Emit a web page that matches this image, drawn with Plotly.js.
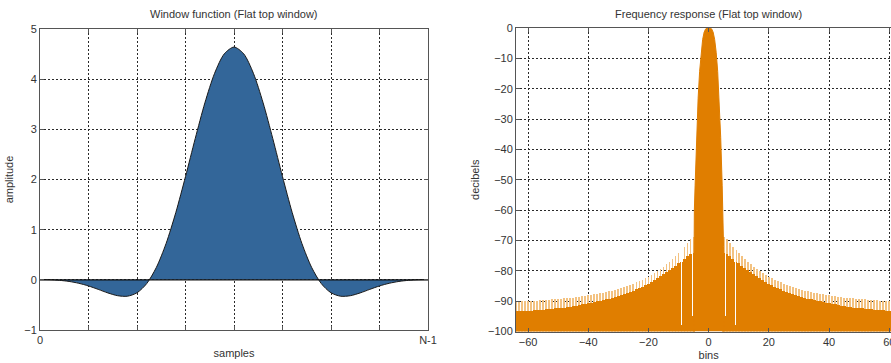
<!DOCTYPE html>
<html>
<head>
<meta charset="utf-8">
<script src="https://cdn.plot.ly/plotly-3.0.1.min.js"></script>
<style>
  html, body { margin: 0; padding: 0; background: #ffffff; overflow: hidden; }
  #chart { width: 905px; height: 363px; }
</style>
</head>
<body>
<div id="chart"></div>
<script>
// ---------- Window function (left panel) ----------
const sampleIdx = [0,1,2,3,4,5,6,7,8,9,10,11,12,13,14,15,16,17,18,19,20,
                   21,22,23,24,25,26,27,28,29,30,31,32,33,34,35,36,37,38,39,40];
const windowAmp = [0.004,0.001,-0.010,-0.032,-0.069,-0.122,-0.190,-0.261,-0.316,-0.327,-0.258,
                   -0.075,0.249,0.725,1.341,2.058,2.814,3.529,4.117,4.505,4.640,
                   4.505,4.117,3.529,2.814,2.058,1.341,0.725,0.249,-0.075,-0.258,
                   -0.327,-0.316,-0.261,-0.190,-0.122,-0.069,-0.032,-0.010,0.001,0.004];
const sampleTickVals = [0,5,10,15,20,25,30,35,40];
const sampleTickText = ['0','','','','','','','','N-1'];
const ampTickVals = [-1,0,1,2,3,4,5];

// ---------- Frequency response (right panel) ----------
const lobeBins = [-5,-4.95,-4.75,-4.5,-4,-3.5,-3,-2.5,-2,-1.5,-1,-0.5,0,
                  0.5,1,1.5,2,2.5,3,3.5,4,4.5,4.75,4.95,5];
const lobeDb   = [-100,-72,-60,-52,-36,-23.2,-14.3,-8.0,-3.8,-1.4,-0.3,-0.01,0,
                  -0.01,-0.3,-1.4,-3.8,-8.0,-14.3,-23.2,-36,-52,-60,-72,-100];

const binsNeg = [-64,-63,-62,-61,-60,-59,-58,-57,-56,-55,-54,-53,-52,-51,-50,-49,-48,-47,-46,-45,
                 -44,-43,-42,-41,-40,-39,-38,-37,-36,-35,-34,-33,-32,-31,-30,-29,-28,-27,-26,-25,
                 -24,-23,-22,-21,-20,-19,-18,-17,-16,-15,-14,-13,-12,-11,-10,-9,-8,-7,-6,-5];
const envNeg   = [-90.1,-90.0,-90.0,-90.0,-89.9,-89.9,-89.8,-89.8,-89.7,-89.6,-89.6,-89.5,-89.4,-89.4,-89.3,-89.2,-89.1,-89.0,-88.9,-88.8,
                  -88.7,-88.5,-88.4,-88.3,-88.1,-88.0,-87.8,-87.6,-87.4,-87.2,-87.0,-86.7,-86.5,-86.2,-85.9,-85.6,-85.3,-85.0,-84.6,-84.2,
                  -83.8,-83.4,-82.9,-82.4,-81.9,-81.3,-80.7,-80.0,-79.3,-78.6,-77.8,-77.0,-76.0,-75.0,-74.0,-73.0,-72.0,-70.8,-69.5,-69.0];
const solidNeg = [-93.3,-93.3,-93.2,-93.2,-93.1,-93.1,-93.0,-93.0,-92.9,-92.8,-92.7,-92.6,-92.5,-92.4,-92.3,-92.2,-92.1,-92.0,-91.8,-91.7,
                  -91.5,-91.3,-91.1,-90.9,-90.7,-90.5,-90.3,-90.1,-89.9,-89.7,-89.4,-89.2,-88.9,-88.6,-88.3,-88.0,-87.7,-87.3,-86.9,-86.5,
                  -86.1,-85.7,-85.2,-84.7,-84.2,-83.6,-83.0,-82.4,-81.8,-81.2,-80.5,-79.8,-79.0,-78.3,-77.5,-77.0,-76.0,-75.0,-74.5,-74.0];

const binsPos = [5,6,7,8,9,10,11,12,13,14,15,16,17,18,19,20,21,22,23,24,
                 25,26,27,28,29,30,31,32,33,34,35,36,37,38,39,40,41,42,43,44,
                 45,46,47,48,49,50,51,52,53,54,55,56,57,58,59,60,61,62,63,64];
const envPos   = [-69.0,-69.5,-70.8,-72.0,-73.0,-74.0,-75.0,-76.0,-77.0,-77.8,-78.6,-79.3,-80.0,-80.7,-81.3,-81.9,-82.4,-82.9,-83.4,-83.8,
                  -84.2,-84.6,-85.0,-85.3,-85.6,-85.9,-86.2,-86.5,-86.7,-87.0,-87.2,-87.4,-87.6,-87.8,-88.0,-88.1,-88.3,-88.4,-88.5,-88.7,
                  -88.8,-88.9,-89.0,-89.1,-89.2,-89.3,-89.4,-89.4,-89.5,-89.6,-89.6,-89.7,-89.8,-89.8,-89.9,-89.9,-90.0,-90.0,-90.0,-90.1];
const solidPos = [-74.0,-74.5,-75.0,-76.0,-77.0,-77.5,-78.3,-79.0,-79.8,-80.5,-81.2,-81.8,-82.4,-83.0,-83.6,-84.2,-84.7,-85.2,-85.7,-86.1,
                  -86.5,-86.9,-87.3,-87.7,-88.0,-88.3,-88.6,-88.9,-89.2,-89.4,-89.7,-89.9,-90.1,-90.3,-90.5,-90.7,-90.9,-91.1,-91.3,-91.5,
                  -91.7,-91.8,-92.0,-92.1,-92.2,-92.3,-92.4,-92.5,-92.6,-92.7,-92.8,-92.9,-93.0,-93.0,-93.1,-93.1,-93.2,-93.2,-93.3,-93.3];

const notchBins  = [-9, -5.5, 5.5, 9];
const notchLowDb = [-98, -95, -95, -98];
const notchTopDb = [-73, -69.5, -69.5, -73];

const binTickVals = [-60,-40,-20,0,20,40,60];
const dbTickVals = [-100,-90,-80,-70,-60,-50,-40,-30,-20,-10,0];
const dbFloor = -100;

// ---------- build ----------
const sideBins = binsNeg.concat(binsPos);
const sideEnv = envNeg.concat(envPos);
const sideSolid = solidNeg.concat(solidPos);

const DARK = '#E07E00';
const LIGHT = '#F3C281';
const BLUE = '#336699';

const traces = [
  { type:'scatter', x: sampleIdx, y: windowAmp, xaxis:'x', yaxis:'y',
    mode:'lines', line:{color:'#1a1a1a', width:1, shape:'spline', smoothing:0.8},
    fill:'tozeroy', fillcolor: BLUE, hoverinfo:'skip', showlegend:false },
  { type:'scatter', x:[sampleIdx[0], sampleIdx[sampleIdx.length-1]], y:[0,0], xaxis:'x', yaxis:'y',
    mode:'lines', line:{color:'#111', width:1.2}, hoverinfo:'skip', showlegend:false },

  { type:'bar', x: sideBins, y: sideEnv.map(v => v - dbFloor), base: dbFloor, width: 0.6,
    xaxis:'x2', yaxis:'y2', marker:{color: LIGHT, line:{width:0}}, hoverinfo:'skip', showlegend:false },
  { type:'bar', x: sideBins, y: sideSolid.map(v => v - dbFloor), base: dbFloor, width: 1.0,
    xaxis:'x2', yaxis:'y2', marker:{color: DARK, line:{width:0}}, hoverinfo:'skip', showlegend:false },
  { type:'bar', x: notchBins, y: notchTopDb.map((v,i) => v - notchLowDb[i]), base: notchLowDb, width: 0.3,
    xaxis:'x2', yaxis:'y2', marker:{color:'#ffffff', line:{width:0}}, hoverinfo:'skip', showlegend:false },
  { type:'scatter', x: lobeBins, y: lobeDb, xaxis:'x2', yaxis:'y2',
    mode:'lines', line:{color: DARK, width:1}, fill:'toself', fillcolor: DARK,
    hoverinfo:'skip', showlegend:false }
];

const W = 905, H = 363;
const FONT = {family:'"Liberation Sans", Arial, sans-serif', size:11, color:'#333'};
const axBase = {
  showgrid:true, gridcolor:'#2a2a2a', gridwidth:1, griddash:'2px,2px',
  showline:true, linecolor:'#555', linewidth:1, mirror:'ticks',
  ticks:'inside', ticklen:4, tickcolor:'#555', zeroline:false,
  tickfont: FONT, fixedrange:true
};

const layout = {
  width: W, height: H, autosize:false,
  margin:{l:0, r:0, t:0, b:0},
  paper_bgcolor:'#ffffff', plot_bgcolor:'#ffffff',
  font: FONT, showlegend:false, barmode:'overlay', bargap:0,
  xaxis: Object.assign({}, axBase, {
    domain:[40/W, 428/W], anchor:'y', range:[0,40],
    tickmode:'array', tickvals: sampleTickVals, ticktext: sampleTickText,
    title:{text:'samples', font:FONT, standoff:4}
  }),
  yaxis: Object.assign({}, axBase, {
    domain:[33/H, 334/H], anchor:'x', range:[-1,5],
    tickmode:'array', tickvals: ampTickVals,
    title:{text:'amplitude', font:FONT, standoff:8}
  }),
  xaxis2: Object.assign({}, axBase, {
    domain:[516/W, 901.3/W], anchor:'y2', range:[-64,64],
    tickmode:'array', tickvals: binTickVals,
    title:{text:'bins', font:FONT, standoff:4}
  }),
  yaxis2: Object.assign({}, axBase, {
    domain:[31.5/H, 335/H], anchor:'x2', range:[-100,0],
    tickmode:'array', tickvals: dbTickVals,
    title:{text:'decibels', font:FONT, standoff:6}
  }),
  annotations: [
    { text:'Window function (Flat top window)', xref:'x domain', yref:'paper',
      x:0.5, y:(H-14)/H, xanchor:'center', yanchor:'middle', showarrow:false, font:FONT },
    { text:'Frequency response (Flat top window)', xref:'x2 domain', yref:'paper',
      x:0.5, y:(H-14)/H, xanchor:'center', yanchor:'middle', showarrow:false, font:FONT }
  ]
};

Plotly.newPlot('chart', traces, layout, {staticPlot:true, displayModeBar:false});
</script>
</body>
</html>
